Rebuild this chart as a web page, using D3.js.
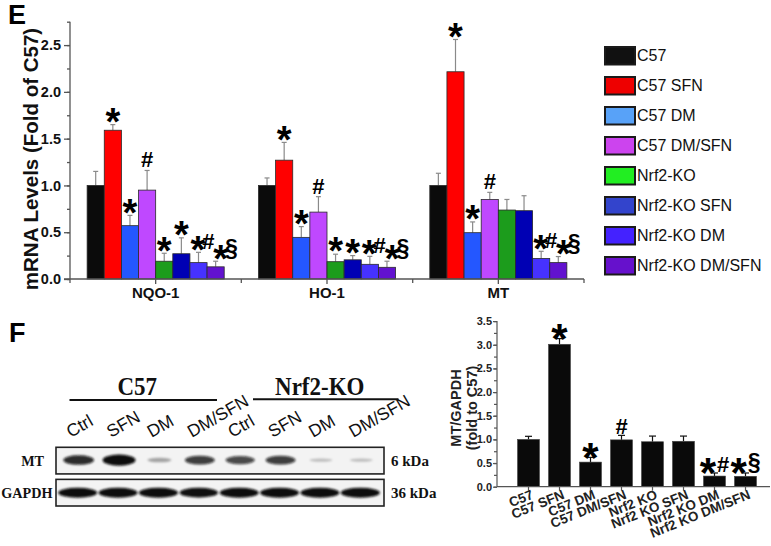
<!DOCTYPE html>
<html><head><meta charset="utf-8">
<script src="https://cdn.jsdelivr.net/npm/d3@7"></script>
<style>
html,body{margin:0;padding:0;background:#fff;}
svg{display:block;font-family:Arial,"Liberation Sans",Helvetica,sans-serif;}
</style></head>
<body>
<svg id="chart" width="771" height="546"></svg>
<script>
// ---------- Panel E data ----------
const genes = ["NQO-1", "HO-1", "MT"];
const groupsE = ["C57", "C57 SFN", "C57 DM", "C57 DM/SFN", "Nrf2-KO", "Nrf2-KO SFN", "Nrf2-KO DM", "Nrf2-KO DM/SFN"];
const nqo1 = [1.0, 1.59, 0.57, 0.95, 0.19, 0.27, 0.175, 0.13];
const nqo1Err = [0.15, 0.06, 0.11, 0.21, 0.085, 0.17, 0.11, 0.06];
const ho1 = [1.0, 1.27, 0.445, 0.715, 0.185, 0.205, 0.157, 0.125];
const ho1Err = [0.08, 0.19, 0.115, 0.165, 0.08, 0.045, 0.085, 0.065];
const mtE = [1.0, 2.215, 0.495, 0.85, 0.737, 0.73, 0.22, 0.175];
const mtEErr = [0.13, 0.345, 0.115, 0.076, 0.113, 0.16, 0.076, 0.065];
const sigNQO1 = ["", "*", "*", "#", "*", "*", "*#", "*§"];
const sigHO1 = ["", "*", "*", "#", "*", "*", "*#", "*§"];
const sigMT = ["", "*", "*", "#", "", "", "*#", "*§"];
const yTicksE = [0, 0.5, 1.0, 1.5, 2.0, 2.5];
const barColorsE = ["#0b0b0b", "#ff0000", "#2457ff", "#bf48ff", "#1c9c1c", "#0000b4", "#4632ff", "#6212cf"];
const legendColorsE = ["#111111", "#ee0000", "#58a2f8", "#cc44ee", "#22ee22", "#3344cc", "#4422ff", "#6611cc"];

// ---------- Panel F data ----------
const lanes = ["Ctrl", "SFN", "DM", "DM/SFN", "Ctrl", "SFN", "DM", "DM/SFN"];
const strains = ["C57", "Nrf2-KO"];
const mtBand = [0.8, 1.0, 0.2, 0.72, 0.66, 0.72, 0.08, 0.08];
const gapdhBand = [0.95, 0.95, 0.96, 0.93, 0.95, 0.95, 0.95, 0.96];
const blotRows = ["MT", "GAPDH"];
const blotSizes = ["6 kDa", "36 kDa"];
const groupsF = ["C57", "C57 SFN", "C57 DM", "C57 DM/SFN", "Nrf2 KO", "Nrf2 KO SFN", "Nrf2 KO DM", "Nrf2 KO DM/SFN"];
const valsF = [1.0, 3.01, 0.52, 0.99, 0.95, 0.96, 0.225, 0.22];
const errF = [0.065, 0.12, 0.1, 0.095, 0.12, 0.11, 0.065, 0.07];
const sigF = ["", "*", "*", "#", "", "", "*#", "*§"];
const yTicksF = [0, 0.5, 1.0, 1.5, 2.0, 2.5, 3.0, 3.5];

const svg = d3.select("#chart");
svg.append("rect").attr("width", 771).attr("height", 546).attr("fill", "#fff");

// symbol writer: star big, #/§ smaller, vertically centred at cy
function writeSig(g, x, cy, s, starSize, hashSize, gap) {
  if (!s) return;
  const t = g.append("text").attr("x", x).attr("y", cy)
    .attr("text-anchor", "middle").attr("font-weight", "bold").attr("fill", "#000");
  let prev = 0;
  [...s].forEach((ch, i) => {
    const isStar = ch === "*";
    const fs = isStar ? starSize : (ch === "§" ? hashSize * 1.05 : hashSize);
    const off = isStar ? 0.56 * fs : (ch === "§" ? 0.24 * fs : 0.36 * fs);
    const ts = t.append("tspan").attr("font-size", fs).attr("dy", off - prev).text(ch);
    if (i > 0) ts.attr("dx", gap);
    prev = off;
  });
}

// =================== PANEL E ===================
const gE = svg.append("g");
const x0 = d3.scaleBand().domain(genes).range([70, 584]).padding(0);
const x1 = d3.scaleBand().domain(groupsE).range([0, x0.bandwidth()]).paddingInner(0).paddingOuter(1);
const yE = d3.scaleLinear().domain([0, 2.75]).range([279, 21.7]);
const colorE = d3.scaleOrdinal().domain(groupsE).range(barColorsE);
const legendColor = d3.scaleOrdinal().domain(groupsE).range(legendColorsE);

const dataE = [
  {gene: "NQO-1", v: nqo1, e: nqo1Err, s: sigNQO1},
  {gene: "HO-1", v: ho1, e: ho1Err, s: sigHO1},
  {gene: "MT", v: mtE, e: mtEErr, s: sigMT}
];

dataE.forEach(d => {
  const g = gE.append("g").attr("transform", `translate(${x0(d.gene)},0)`);
  const rows = groupsE.map((k, i) => ({k, v: d.v[i], e: d.e[i], s: d.s[i]}));
  rows.forEach(r => {
    const cx = x1(r.k) + x1.bandwidth() / 2;
    g.append("line").attr("x1", cx).attr("x2", cx).attr("y1", yE(r.v)).attr("y2", yE(r.v + r.e))
      .attr("stroke", "#8a8a8a").attr("stroke-width", 1.2);
    g.append("line").attr("x1", cx - 2.5).attr("x2", cx + 2.5).attr("y1", yE(r.v + r.e)).attr("y2", yE(r.v + r.e))
      .attr("stroke", "#8a8a8a").attr("stroke-width", 1.2);
  });
  g.selectAll("rect").data(rows).join("rect")
    .attr("x", r => x1(r.k)).attr("width", x1.bandwidth())
    .attr("y", r => yE(r.v)).attr("height", r => yE(0) - yE(r.v))
    .attr("fill", r => colorE(r.k)).attr("stroke", "#2a2a2a").attr("stroke-width", 0.8);
  rows.forEach(r => {
    const cx = x1(r.k) + x1.bandwidth() / 2;
    const dx = r.s === "*#" ? 4 : (r.s === "*§" ? 10 : 0);
    writeSig(g, cx + dx, yE(r.v + r.e) - 11, r.s, 38, 22, -3);
  });
});

// y axis E
const axE = gE.append("g").attr("transform", "translate(70,0)");
axE.call(d3.axisLeft(yE).tickValues(d3.range(0, 2.76, 0.25)).tickSize(3).tickFormat(""))
  .call(a => a.select(".domain").remove());
axE.append("g").call(d3.axisLeft(yE).tickValues(yTicksE).tickSize(6).tickSizeOuter(0).tickPadding(3).tickFormat(d3.format(".1f")))
  .call(a => a.select(".domain").remove());
axE.append("line").attr("x1", 0).attr("x2", 0).attr("y1", yE(0)).attr("y2", yE(2.75));
axE.selectAll("line").attr("stroke", "#555").attr("stroke-width", 1.3);
axE.selectAll("text").attr("font-size", 14.5).attr("font-weight", "bold").attr("fill", "#111")
  .attr("font-family", "Arial, 'Liberation Sans', sans-serif");

// x axis E
const axEx = gE.append("g").attr("transform", `translate(0,${yE(0)})`);
axEx.call(d3.axisBottom(x0).tickSize(5).tickSizeOuter(0).tickPadding(3));
axEx.select(".domain").remove();
axEx.append("line").attr("x1", 64).attr("x2", 584).attr("y1", 0).attr("y2", 0);
axEx.selectAll(".bnd").data([70, 241.3, 412.7, 584]).join("line").attr("class", "bnd")
  .attr("x1", d => d).attr("x2", d => d).attr("y1", 0).attr("y2", 4);
axEx.selectAll("line").attr("stroke", "#555").attr("stroke-width", 1.3);
axEx.selectAll("text").attr("font-size", 15).attr("font-weight", "bold").attr("fill", "#111")
  .attr("font-family", "Arial, 'Liberation Sans', sans-serif");

// y title E
gE.append("text").attr("transform", "translate(38,159) rotate(-90)")
  .attr("text-anchor", "middle").attr("font-size", 20.5).attr("font-weight", "bold").attr("fill", "#111")
  .text("mRNA Levels (Fold of C57)");
svg.append("text").attr("x", 8).attr("y", 24).attr("font-size", 27).attr("font-weight", "bold").text("E");

// legend E
const lg = gE.append("g");
groupsE.forEach((k, i) => {
  const yy = 47 + 30 * i;
  lg.append("rect").attr("x", 605).attr("y", yy).attr("width", 30).attr("height", 17.5)
    .attr("fill", legendColor(k)).attr("stroke", "#1a1a1a").attr("stroke-width", 2);
  lg.append("text").attr("x", 637).attr("y", yy + 13.5).attr("font-size", 16).attr("fill", "#111").text(k);
});

// =================== PANEL F: blot ===================
svg.append("text").attr("x", 9).attr("y", 342).attr("font-size", 27).attr("font-weight", "bold").text("F");
const gB = svg.append("g");
const defs = svg.append("defs");
defs.append("filter").attr("id", "blur").attr("x", "-30%").attr("y", "-80%").attr("width", "160%").attr("height", "260%")
  .append("feGaussianBlur").attr("stdDeviation", 1.3);

const laneX = d3.scaleBand().domain(d3.range(lanes.length)).range([57.5, 380.5]);
const lc = i => laneX(i) + laneX.bandwidth() / 2;
const serif = "'Liberation Serif','Times New Roman',Times,serif";

[[0, 3], [4, 7]].forEach((r, j) => {
  const xa = j === 0 ? laneX(r[0]) + 12 : laneX(r[0]) + 34;
  const xb = j === 0 ? laneX(r[1]) + laneX.bandwidth() - 2 : laneX(r[1]) + laneX.bandwidth() + 18;
  const yy = j === 0 ? 400 : 399.3;
  gB.append("line").attr("x1", xa).attr("x2", xb).attr("y1", yy).attr("y2", yy).attr("stroke", "#111").attr("stroke-width", 2);
  gB.append("text").attr("x", (xa + xb) / 2 - 6).attr("y", 395).attr("text-anchor", "middle")
    .attr("font-family", serif).attr("font-weight", "bold").attr("font-size", 23).attr("fill", "#111")
    .attr("transform", `translate(0,${-395 * 0.12}) scale(1,1.12)`)
    .text(strains[j]);
});
lanes.forEach((l, i) => {
  gB.append("text").attr("transform", `translate(${lc(i) - 7},438) rotate(-30)`)
    .attr("font-size", 17.5).attr("fill", "#111").text(l);
});
const rowY = d3.scaleBand().domain(blotRows).range([447.3, 506]).paddingInner(0.17);
blotRows.forEach((r, j) => {
  const y0 = rowY(r), h = rowY.bandwidth();
  gB.append("rect").attr("x", 56).attr("y", y0).attr("width", 328).attr("height", h)
    .attr("fill", "#f3f3f3").attr("stroke", "#222").attr("stroke-width", 1.6);
  const vals = j === 0 ? mtBand : gapdhBand;
  const bg = gB.append("g").attr("filter", "url(#blur)");
  vals.forEach((v, i) => {
    const rx = j === 0 ? 11 + 5.5 * v : 9 + 11 * v;
    const ry = j === 0 ? 1.4 + 4.2 * v : 5.2 * v;
    bg.append("ellipse").attr("cx", lc(i) + (j === 0 ? 1 : 0)).attr("cy", y0 + h / 2 + (j === 0 ? -0.5 : 0))
      .attr("rx", rx).attr("ry", ry).attr("fill", "#0c0c0c").attr("fill-opacity", Math.min(1, 0.15 + 0.9 * v));
  });
  gB.append("text").attr("x", j === 0 ? 44 : 52.5).attr("y", y0 + h / 2 + 5).attr("text-anchor", "end")
    .attr("font-family", serif).attr("font-weight", "bold").attr("font-size", 14.2).attr("fill", "#111").text(r);
  gB.append("text").attr("x", 391).attr("y", y0 + h / 2 + 5)
    .attr("font-family", serif).attr("font-weight", "bold").attr("font-size", 15).attr("fill", "#111").text(blotSizes[j]);
});

// =================== PANEL F: bar chart ===================
const gF = svg.append("g");
const xF = d3.scaleBand().domain(groupsF).range([513, 761]).paddingInner(0.29).paddingOuter(0.145);
const yF = d3.scaleLinear().domain([0, 3.5]).range([486.7, 321.1]);

groupsF.forEach((k, i) => {
  const cx = xF(k) + xF.bandwidth() / 2;
  gF.append("line").attr("x1", cx).attr("x2", cx).attr("y1", yF(valsF[i])).attr("y2", yF(valsF[i] + errF[i]))
    .attr("stroke", "#111").attr("stroke-width", 1.2);
  gF.append("line").attr("x1", cx - 3.5).attr("x2", cx + 3.5).attr("y1", yF(valsF[i] + errF[i])).attr("y2", yF(valsF[i] + errF[i]))
    .attr("stroke", "#111").attr("stroke-width", 1.2);
});
gF.selectAll("rect.bf").data(groupsF.map((k, i) => ({k, v: valsF[i]}))).join("rect").attr("class", "bf")
  .attr("x", d => xF(d.k)).attr("width", xF.bandwidth())
  .attr("y", d => yF(d.v)).attr("height", d => yF(0) - yF(d.v))
  .attr("fill", "#0a0a0a").attr("stroke", "#444").attr("stroke-width", 0.6);
groupsF.forEach((k, i) => {
  const cx = xF(k) + xF.bandwidth() / 2;
  writeSig(gF, cx, yF(valsF[i] + errF[i]) - 9, sigF[i], 42, 22, 1);
});

const axF = gF.append("g").attr("transform", "translate(497,0)");
axF.call(d3.axisLeft(yF).tickValues(d3.range(0, 3.51, 0.25)).tickSize(3).tickFormat(""))
  .call(a => a.select(".domain").remove());
axF.append("g").call(d3.axisLeft(yF).tickValues(yTicksF).tickSize(4).tickSizeOuter(0).tickPadding(1).tickFormat(d3.format(".1f")))
  .call(a => a.select(".domain").remove());
axF.append("line").attr("x1", 0).attr("x2", 0).attr("y1", yF(0)).attr("y2", yF(3.5));
axF.selectAll("line").attr("stroke", "#555").attr("stroke-width", 1.2);
axF.selectAll("text").attr("font-size", 11).attr("font-weight", "bold").attr("fill", "#222")
  .attr("font-family", "Arial, 'Liberation Sans', sans-serif");

const axFx = gF.append("g").attr("transform", `translate(0,${yF(0)})`);
axFx.call(d3.axisBottom(xF).tickSize(4).tickSizeOuter(0).tickFormat(""));
axFx.select(".domain").remove();
axFx.append("line").attr("x1", 497).attr("x2", 770).attr("y1", 0).attr("y2", 0);
axFx.selectAll("line").attr("stroke", "#555").attr("stroke-width", 1.2);
groupsF.forEach(k => {
  const cx = xF(k) + xF.bandwidth() / 2;
  gF.append("text").attr("transform", `translate(${cx + 2},${yF(0) + 2}) rotate(-22)`)
    .attr("text-anchor", "end").attr("dy", "0.75em").attr("font-size", 13.5).attr("font-weight", "bold").attr("fill", "#222")
    .text(k);
});
gF.append("text").attr("transform", "translate(461,408) rotate(-90)").attr("text-anchor", "middle")
  .attr("font-size", 14.5).attr("font-weight", "bold").attr("fill", "#222").text("MT/GAPDH");
gF.append("text").attr("transform", "translate(477,408) rotate(-90)").attr("text-anchor", "middle")
  .attr("font-size", 14.5).attr("font-weight", "bold").attr("fill", "#222").text("(fold to C57)");
</script>
</body></html>
